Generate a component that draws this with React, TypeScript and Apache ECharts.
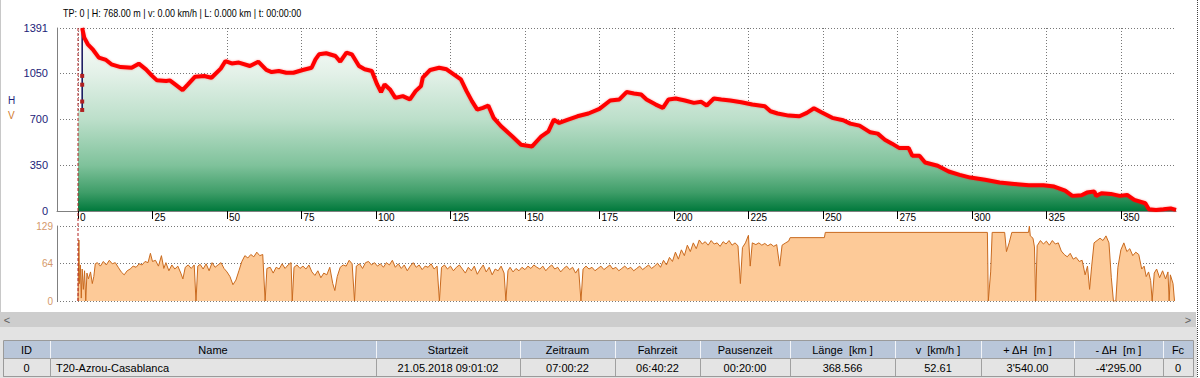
import React, { useEffect, useRef } from 'react';
import * as echarts from 'echarts';

// ---------- data ----------
const xTickValues = [0, 25, 50, 75, 100, 125, 150, 175, 200, 225, 250, 275, 300, 325, 350];

const elevKm = [
  0, 1.2,
  1.4, 2.1, 3.3, 5.1, 7.0, 9.4, 11.2, 14.3, 18.0, 20.4, 22.8, 24.7, 26.5, 29.6, 30.8, 32.6, 35.1, 36.9,
  39.3, 42.4, 44.8, 47.9, 49.5, 51.6, 54.0, 57.7, 60.5, 63.2, 65.0, 67.4, 69.9, 72.3, 75.4, 78.4, 79.7,
  80.9, 83.3, 86.4, 88.0, 90.1, 91.9, 94.3, 96.2, 98.6, 100.4, 101.7, 102.9, 104.7, 106.5, 109.0, 111.4,
  113.3, 115.1, 115.7, 118.2, 121.2, 123.7, 126.1, 128.5, 130.4, 132.2, 134.0, 135.9, 137.7, 139.5, 142.0,
  145.7, 148.7, 152.4, 155.5, 157.9, 159.7, 161.5, 164.0, 167.6, 171.3, 175.0, 178.6, 181.7, 184.1, 186.6,
  189.0, 190.8, 193.9, 196.3, 198.2, 200.6, 203.7, 206.7, 209.2, 211.0, 213.4, 215.9, 218.9, 222.6, 226.3,
  230.5, 232.4, 234.8, 238.5, 242.1, 244.6, 247.0, 249.5, 253.1, 256.8, 259.2, 262.3, 265.9, 268.4, 270.8,
  273.2, 275.7, 278.8, 280.0, 282.4, 284.3, 288.5, 292.2, 295.9, 299.5, 304.4, 309.3, 314.2, 319.1, 324.0,
  327.6, 331.3, 333.7, 336.8, 338.6, 341.1, 341.7, 343.5, 346.6, 349.6, 352.1, 354.5, 358.2, 359.4, 361.8,
  364.3, 366.7, 368.5,
];
const elevM = [
  768, 768,
  1391, 1318, 1267, 1224, 1166, 1148, 1115, 1094, 1089, 1120, 1077, 1031, 993, 988, 993, 962, 919, 962,
  1021, 1026, 1013, 1082, 1140, 1122, 1128, 1102, 1135, 1072, 1056, 1064, 1051, 1051, 1072, 1089, 1153,
  1191, 1199, 1178, 1135, 1204, 1191, 1102, 1077, 1064, 962, 904, 962, 924, 860, 873, 848,
  911, 949, 1013, 1072, 1089, 1077, 1038, 1000, 911, 835, 771, 784, 802, 708, 644,
  568, 504, 491, 568, 606, 695, 669, 690, 720, 741, 776, 840, 848, 904, 893,
  886, 848, 809, 784, 848, 855, 840, 822, 830, 802, 855, 848, 840, 827, 809,
  797, 758, 741, 725, 720, 746, 781, 751, 708, 690, 664, 649, 598, 588, 542,
  512, 478, 478, 420, 420, 369, 344, 300, 275, 254, 237, 216, 206, 196, 196,
  186, 155, 115, 120, 140, 148, 115, 135, 130, 115, 122, 84, 59, 13, 8,
  13, 20, 8,
];

// vertical GPS jump at the start (thin navy line with markers)
const jumpKm = [1.4, 1.4, 1.4, 1.4, 1.4];
const jumpM = [768, 832, 960, 1027, 1391];

const speedKm = [
  0, 0.3, 0.5, 0.8, 1.1, 1.4, 1.8, 2.2, 2.6, 3.0, 3.5, 4.2, 4.8, 5.3, 5.8, 6.5, 7.5, 8.5, 9.5, 10.5,
  11.5, 12.5, 13.5, 14.5, 15.5, 16.5, 17.5, 18.5, 19.5, 20.5, 21.5, 22.5, 23.5, 24.3, 25.0, 26.0, 27.0, 28.0,
  28.8, 29.5, 30.5, 31.5, 32.5, 33.5, 34.5, 35.2, 36.0, 37.0, 38.0, 39.0, 39.6, 40.2, 41.0, 42.0, 43.0, 44.0,
  45.0, 46.0, 47.0, 48.0, 49.0, 50.0, 51.0, 52.0, 53.0, 54.0, 55.0, 56.0, 57.0, 58.0, 59.0, 60.0, 61.0, 62.0,
  62.8, 63.4, 64.5, 65.5, 66.5, 67.5, 68.5, 69.5, 70.5, 71.5, 71.9, 72.5, 73.5, 74.5, 75.5, 76.5, 77.5, 78.5,
  79.5, 80.5, 81.5, 82.5, 83.5, 84.5, 85.5, 86.2, 87.0, 88.0, 89.0, 90.0, 91.0, 92.0, 92.8, 93.4, 94.5, 95.5,
  96.5, 97.5, 98.5, 99.5, 100.5, 101.5, 102.5, 103.5, 104.5, 105.5, 106.5, 107.5, 108.5, 109.5, 110.5, 111.5,
  112.5, 113.5, 114.5, 115.5, 116.5, 117.5, 118.5, 119.5, 120.5, 121.3, 122.0, 123.0, 124.0, 125.0, 126.0,
  127.0, 128.0, 129.0, 130.0, 131.0, 132.0, 133.0, 134.0, 135.0, 136.0, 137.0, 138.0, 139.0, 140.0, 141.0,
  142.0, 143.0, 143.6, 144.3, 145.0, 146.0, 147.0, 148.0, 149.0, 150.0, 151.0, 152.0, 153.0, 154.0, 155.0,
  156.0, 157.0, 158.0, 159.0, 160.0, 161.0, 162.0, 163.0, 164.0, 165.0, 166.0, 167.0, 168.0, 168.8, 169.5,
  170.5, 171.5, 172.5, 173.5, 174.5, 175.5, 176.5, 177.5, 178.5, 179.5, 180.5, 181.5, 182.5, 183.5, 184.5,
  185.5, 186.5, 187.5, 188.5, 189.5, 190.5, 191.5, 192.5, 193.5, 194.5, 195.5, 196.5, 197.5, 198.5, 199.5,
  200.5, 201.5, 202.5, 203.5, 204.5, 205.5, 206.5, 207.5, 208.5, 209.5, 210.5, 211.5, 212.5, 213.5, 214.5,
  215.5, 216.5, 217.5, 218.5, 219.5, 220.5, 221.5, 222.3, 223.0, 224.0, 225.0, 225.6, 226.3, 227.5, 228.5,
  229.5, 230.5, 231.5, 232.5, 233.5, 234.5, 235.5, 236.3, 237.5, 238.5, 239.0, 250.5, 250.8, 305.2, 305.5,
  306.3, 306.8, 311.0, 311.6, 312.5, 313.4, 319.0, 319.3, 319.6, 320.5, 321.0, 321.4, 321.9, 323.0, 324.0,
  325.0, 326.0, 327.0, 328.0, 329.0, 330.0, 331.0, 332.0, 333.0, 334.0, 335.0, 336.0, 337.0, 338.0, 338.8,
  339.5, 340.2, 341.0, 342.0, 343.0, 344.0, 345.0, 346.0, 346.8, 347.5, 348.3, 349.0, 350.0, 351.0, 352.0,
  353.0, 354.0, 355.0, 356.0, 357.0, 357.8, 358.5, 359.3, 360.0, 360.5, 361.2, 362.0, 363.0, 364.0, 365.0,
  365.8, 366.2, 366.6, 367.5, 368.0,
];
const speedV = [
  0, 105, 30, 62, 5, 55, 20, 52, 0, 48, 38, 50, 30, 42, 64, 66, 60, 68, 62, 70,
  64, 66, 58, 50, 45, 52, 55, 60, 58, 64, 62, 68, 66, 82, 68, 70, 60, 78,
  56, 66, 52, 62, 55, 60, 48, 38, 58, 62, 56, 62, 0, 60, 63, 55, 64, 52,
  66, 58, 62, 66, 56, 50, 42, 28, 36, 52, 68, 78, 74, 80, 76, 84, 78, 80,
  0, 56, 58, 48, 58, 55, 64, 56, 62, 66, 0, 58, 62, 56, 60, 55, 62, 50,
  44, 52, 40, 48, 45, 58, 30, 18, 42, 58, 62, 60, 70, 64, 0, 60, 64, 56,
  66, 68, 62, 66, 60, 64, 58, 66, 62, 70, 58, 64, 56, 62, 52, 60,
  66, 58, 62, 54, 60, 58, 64, 55, 60, 0, 58, 62, 55, 60, 52,
  58, 62, 55, 48, 58, 52, 60, 46, 55, 62, 50, 58, 45, 55, 52,
  60, 48, 0, 52, 58, 50, 56, 52, 58, 54, 60, 56, 62, 58, 55,
  60, 52, 58, 62, 55, 58, 50, 56, 60, 54, 58, 48, 56, 0, 55,
  60, 55, 58, 52, 56, 60, 54, 58, 62, 55, 58, 52, 56, 60, 55,
  58, 52, 56, 60, 54, 58, 62, 56, 60, 65, 58, 70, 62, 75, 68,
  84, 72, 88, 78, 96, 85, 100, 90, 105, 98, 102, 96, 104, 98, 100,
  94, 102, 98, 104, 96, 100, 95, 30, 92, 100, 113, 60, 100, 97, 100,
  96, 99, 95, 98, 94, 97, 60, 96, 100, 103, 109, 109, 118, 118, 0,
  50, 118, 118, 85, 100, 118, 118, 129, 112, 108, 93, 0, 95, 104, 98,
  103, 96, 104, 98, 100, 86, 80, 76, 82, 72, 75, 68, 70, 45, 60,
  20, 60, 100, 104, 108, 104, 112, 100, 40, 0, 0, 58, 88, 100, 85,
  90, 78, 84, 80, 55, 60, 42, 50, 35, 0, 48, 55, 40, 52, 38,
  50, 0, 45, 30, 0,
];

const statusText = 'TP: 0 | H: 768.00 m | v: 0.00 km/h | L: 0.000 km | t: 00:00:00';
const tableHeaders = ['ID', 'Name', 'Startzeit', 'Zeitraum', 'Fahrzeit', 'Pausenzeit', 'Länge  [km ]', 'v  [km/h ]', '+ ΔH  [m ]', '- ΔH  [m ]', 'Fc'];
const tableRow = ['0', 'T20-Azrou-Casablanca', '21.05.2018 09:01:02', '07:00:22', '06:40:22', '00:20:00', '368.566', '52.61', "3'540.00", "-4'295.00", '0'];

// ---------- layout ----------
const FONT = "'Liberation Sans', Arial, sans-serif";
const COL_EDGES = [3, 50, 376, 520, 615, 700, 790, 895, 981, 1074, 1163, 1193];
const TOP_GRID = { left: 57, right: 24, top: 28, height: 183 };
const BOT_GRID = { left: 57, right: 24, top: 226, height: 75 };
const X_MIN = -7.05;
const X_MAX = 368.5;

function buildGraphic(x0: number): any[] {
  const els: any[] = [];
  // status line
  els.push({ type: 'text', x: 63, y: 13, scaleX: 0.9, silent: true,
    style: { text: statusText, fill: '#000', fontSize: 10, fontFamily: FONT, verticalAlign: 'middle', align: 'left' } });
  // H / V labels
  els.push({ type: 'text', x: 8, y: 100, silent: true,
    style: { text: 'H', fill: '#1f1f7a', fontSize: 10, fontFamily: FONT, verticalAlign: 'middle' } });
  els.push({ type: 'text', x: 8, y: 115, silent: true,
    style: { text: 'V', fill: '#d07a30', fontSize: 10, fontFamily: FONT, verticalAlign: 'middle' } });
  // cursor dashed line
  els.push({ type: 'line', silent: true, z: 10,
    shape: { x1: x0, y1: 28, x2: x0, y2: 301 },
    style: { stroke: '#b22222', lineWidth: 1, lineDash: [3, 2] } });
  // scroll bar and lower panel
  els.push({ type: 'rect', silent: true, shape: { x: 0, y: 327, width: 1197, height: 51 }, style: { fill: '#e3e3e3' } });
  els.push({ type: 'rect', silent: true, shape: { x: 0, y: 312, width: 1196, height: 15 }, style: { fill: '#cdcdcd' } });
  els.push({ type: 'text', x: 7, y: 319.5, silent: true,
    style: { text: '<', fill: '#606060', fontSize: 11, fontFamily: FONT, verticalAlign: 'middle', align: 'center' } });
  els.push({ type: 'text', x: 1188, y: 319.5, silent: true,
    style: { text: '>', fill: '#606060', fontSize: 11, fontFamily: FONT, verticalAlign: 'middle', align: 'center' } });
  // table
  const hy = 340, hh = 18, ry = 358, rh = 18;
  for (let i = 0; i < tableHeaders.length; i++) {
    const x1 = COL_EDGES[i], x2 = COL_EDGES[i + 1];
    els.push({ type: 'rect', silent: true, shape: { x: x1 + 0.5, y: hy + 0.5, width: x2 - x1, height: hh },
      style: { fill: '#b9c6d9', stroke: '#f2f4f8', lineWidth: 1 } });
    els.push({ type: 'rect', silent: true, shape: { x: x1 + 0.5, y: ry + 0.5, width: x2 - x1, height: rh },
      style: { fill: '#e4e4e4', stroke: '#a0a0a0', lineWidth: 1 } });
    els.push({ type: 'text', x: (x1 + x2) / 2, y: hy + hh / 2 + 1, silent: true,
      style: { text: tableHeaders[i], fill: '#000', fontSize: 11, fontFamily: FONT, align: 'center', verticalAlign: 'middle' } });
    const left = i === 1;
    els.push({ type: 'text', x: left ? x1 + 6 : (x1 + x2) / 2, y: ry + rh / 2 + 1, silent: true,
      style: { text: tableRow[i], fill: '#000', fontSize: 11, fontFamily: FONT, align: left ? 'left' : 'center', verticalAlign: 'middle' } });
  }
  els.push({ type: 'rect', silent: true, shape: { x: COL_EDGES[0] + 0.5, y: hy + 0.5, width: COL_EDGES[COL_EDGES.length - 1] - COL_EDGES[0], height: hh + rh },
    style: { fill: 'none', stroke: '#9a9a9a', lineWidth: 1 } });
  // frame borders
  els.push({ type: 'line', silent: true, shape: { x1: 1197.5, y1: 0, x2: 1197.5, y2: 378 },
    style: { stroke: '#404040', lineWidth: 1, lineDash: [1, 1] } });
  els.push({ type: 'line', silent: true, shape: { x1: 0.5, y1: 0, x2: 0.5, y2: 312 },
    style: { stroke: '#c8c8c8', lineWidth: 1 } });
  return els;
}

function buildOption(): any {
  const elevData = elevKm.map((k, i) => [k, elevM[i]]);
  const redMain = elevData.slice(2);
  const redStart = elevData.slice(0, 2);
  const jumpData = jumpKm.map((k, i) => ({ value: [k, jumpM[i]], symbolSize: i === jumpKm.length - 1 ? 0 : 4 }));
  const speedData = speedKm.map((k, i) => [k, speedV[i]]);
  const dotted = { color: '#777', width: 1, type: [1, 2] };
  const redLine = { color: '#ff0000', width: 4, shadowColor: 'rgba(255,0,0,0.35)', shadowBlur: 2 };

  return {
    animation: false,
    backgroundColor: '#ffffff',
    textStyle: { fontFamily: FONT },
    grid: [TOP_GRID, BOT_GRID],
    xAxis: [
      {
        type: 'value', gridIndex: 0, min: X_MIN, max: X_MAX,
        axisLine: { show: true, onZero: false, lineStyle: { color: '#808080', width: 1 } },
        axisTick: { show: true, customValues: xTickValues, length: 8, lineStyle: { color: '#000' } },
        axisLabel: { show: true, customValues: xTickValues, color: '#000', fontSize: 10, fontFamily: FONT, align: 'left', margin: 1, padding: [0, 0, 0, 2], formatter: (v: number) => String(v) },
        splitLine: { show: true, lineStyle: dotted },
      },
      {
        type: 'value', gridIndex: 1, min: X_MIN, max: X_MAX,
        axisLine: { show: false }, axisTick: { show: false }, axisLabel: { show: false }, splitLine: { show: false },
      },
    ],
    yAxis: [
      {
        type: 'value', gridIndex: 0, min: 0, max: 1391, interval: 350,
        axisLine: { show: true, onZero: false, lineStyle: { color: '#808080', width: 1 } },
        axisTick: { show: false },
        axisLabel: { color: '#1c1c78', fontSize: 11, fontFamily: FONT, margin: 9, showMaxLabel: true, formatter: (v: number) => String(v) },
        splitLine: { show: true, lineStyle: dotted },
      },
      {
        type: 'value', gridIndex: 1, min: 0, max: 129, interval: 64.5,
        axisLine: { show: true, onZero: false, lineStyle: { color: '#808080', width: 1 } },
        axisTick: { show: false },
        axisLabel: { color: '#d4996a', fontSize: 10, fontFamily: FONT, margin: 4, formatter: (v: number) => String(Math.floor(v)) },
        splitLine: { show: true, lineStyle: dotted },
      },
    ],
    series: [
      {
        type: 'line', xAxisIndex: 0, yAxisIndex: 0, data: elevData, showSymbol: false, symbol: 'none', z: 1,
        lineStyle: { width: 0, opacity: 0 },
        areaStyle: {
          opacity: 1,
          color: new echarts.graphic.LinearGradient(0, 0, 0, 1, [
            { offset: 0, color: '#ffffff' },
            { offset: 0.25, color: '#e3f1e8' },
            { offset: 0.5, color: '#bcdfca' },
            { offset: 0.75, color: '#7fc29b' },
            { offset: 0.9, color: '#3e9d68' },
            { offset: 1, color: '#00793c' },
          ]),
        },
      },
      {
        type: 'line', xAxisIndex: 0, yAxisIndex: 0, data: jumpData, z: 2, symbol: 'rect',
        showSymbol: true, lineStyle: { color: '#10105a', width: 1.5 }, itemStyle: { color: '#b02020' },
      },
      { type: 'line', xAxisIndex: 0, yAxisIndex: 0, data: redStart, symbol: 'none', z: 3, lineStyle: redLine },
      { type: 'line', xAxisIndex: 0, yAxisIndex: 0, data: redMain, symbol: 'none', z: 3, lineStyle: redLine },
      {
        type: 'line', xAxisIndex: 1, yAxisIndex: 1, data: speedData, symbol: 'none', z: 2,
        lineStyle: { color: '#c96a1e', width: 1 },
        areaStyle: { color: '#fdca98', opacity: 1 },
      },
    ],
  };
}

export default function App() {
  const ref = useRef<HTMLDivElement>(null);
  useEffect(() => {
    document.body.style.margin = '0';
    const chart = echarts.init(ref.current as HTMLDivElement, null, { renderer: 'svg', width: 1200, height: 378 });
    chart.setOption(buildOption());
    const x0 = chart.convertToPixel({ xAxisIndex: 0 }, 0) as unknown as number;
    chart.setOption({ graphic: buildGraphic(x0) });
    return () => chart.dispose();
  }, []);
  return <div ref={ref} style={{ position: 'absolute', left: 0, top: 0, width: 1200, height: 378 }} />;
}
